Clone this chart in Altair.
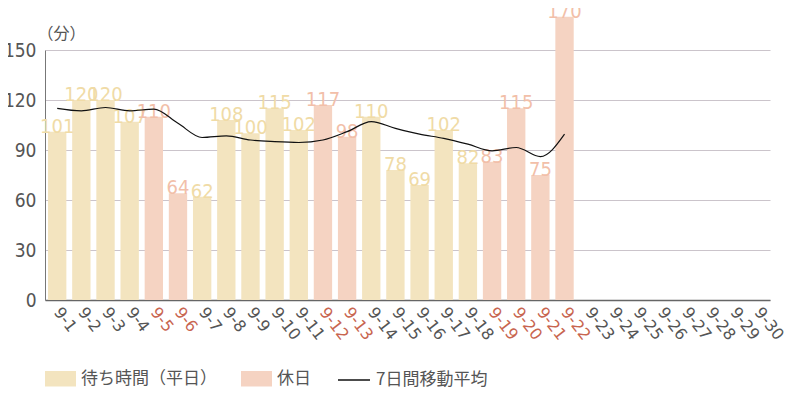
"Waiting time per day in September, with a 7-day moving average"

import json

import altair as alt
import pandas as pd

dates = ["9-1", "9-2", "9-3", "9-4", "9-5", "9-6", "9-7", "9-8", "9-9", "9-10",
         "9-11", "9-12", "9-13", "9-14", "9-15", "9-16", "9-17", "9-18", "9-19", "9-20",
         "9-21", "9-22", "9-23", "9-24", "9-25", "9-26", "9-27", "9-28", "9-29", "9-30"]
waits = [101, 120, 120, 107, 110, 64, 62, 108, 100, 115, 102,
         117, 98, 110, 78, 69, 102, 82, 83, 115, 75, 170]
moving_avg = [115, 113.5, 115.5, 113.5, 114.5, 106, 97.5, 98.5, 96, 95, 94.5,
              96, 101, 107, 103, 99.5, 97, 93.5, 89.5, 91.5, 86, 99.5]
holidays = ["9-5", "9-6", "9-12", "9-13", "9-19", "9-20", "9-21", "9-22"]

WEEKDAY = "待ち時間（平日）"
HOLIDAY = "休日"
MA_LABEL = "7日間移動平均"
NARROW = "DejaVu Sans Condensed, Liberation Sans Narrow, Liberation Sans, sans-serif"

df = pd.DataFrame({"date": dates[:len(waits)], "wait": waits, "ma": moving_avg})
df["kind"] = [HOLIDAY if d in holidays else WEEKDAY for d in df["date"]]
df["series"] = MA_LABEL

x_scale = alt.Scale(domain=dates, paddingInner=0.24, paddingOuter=0.125)
y_scale = alt.Scale(domain=[0, 150])

label_color = (f"indexof({json.dumps(holidays)}, datum.value) >= 0"
               " ? '#c8654f' : '#555555'")

x_axis = alt.Axis(title=None, labelAngle=52, labelAlign="left", labelBaseline="middle",
                  labelPadding=9, ticks=False, labelFont="DejaVu Sans", labelFontSize=16,
                  labelColor={"expr": label_color}, domainColor="#666666",
                  domainWidth=1.5, labelOverlap=False)
y_axis = alt.Axis(values=[0, 30, 60, 90, 120, 150], title="（分）", titleAngle=0,
                  titleAlign="left", titleX=-8, titleY=-12, titleBaseline="alphabetic",
                  titleFont="Noto Sans CJK JP", titleFontSize=16, titleFontWeight="normal",
                  titleColor="#555555", ticks=False, labelPadding=9,
                  labelFont=NARROW, labelFontSize=19,
                  labelColor="#555555", domainColor="#777777", gridColor="#cbc4cb")

bars = alt.Chart(df).mark_bar().encode(
    x=alt.X("date:N", scale=x_scale, sort=dates, axis=x_axis),
    y=alt.Y("wait:Q", scale=y_scale, axis=y_axis),
    color=alt.Color("kind:N", scale=alt.Scale(domain=[WEEKDAY, HOLIDAY],
                                              range=["#f3e4bf", "#f5d3c2"]),
                    legend=alt.Legend(title=None, orient="none", legendX=0, legendY=313,
                                      direction="horizontal",
                                      symbolType="M-1,-0.5H1V0.5H-1Z", symbolSize=961,
                                      symbolStrokeWidth=0, labelFont="Noto Sans CJK JP",
                                      labelFontSize=17, labelColor="#555555",
                                      labelOffset=5, columnPadding=24)),
)

labels = alt.Chart(df).mark_text(baseline="alphabetic", font=NARROW,
                                 fontSize=20, dy=1).encode(
    x=alt.X("date:N", scale=x_scale, sort=dates),
    y=alt.Y("wait:Q", scale=y_scale),
    text="wait:Q",
    color=alt.when(alt.datum.kind == HOLIDAY).then(alt.value("#f2bfa9"))
    .otherwise(alt.value("#f0dba6")),
)

line = alt.Chart(df).mark_line(interpolate="monotone", strokeWidth=1.2).encode(
    x=alt.X("date:N", scale=x_scale, sort=dates),
    y=alt.Y("ma:Q", scale=y_scale),
    stroke=alt.Stroke("series:N", scale=alt.Scale(domain=[MA_LABEL], range=["#111111"]),
                      legend=alt.Legend(title=None, orient="none", legendX=292,
                                        legendY=313, symbolType="stroke",
                                        symbolSize=1024, symbolStrokeWidth=1.5,
                                        labelFont="Noto Sans CJK JP", labelFontSize=17,
                                        labelColor="#555555", labelOffset=5)),
)

chart = alt.layer(bars, labels, line).properties(
    width=725, height=250, autosize="none",
    padding={"left": 37, "top": 42, "right": 22, "bottom": 100},
).configure_view(stroke=None)

chart.save("out.html", embed_options={"renderer": "svg", "actions": False})
